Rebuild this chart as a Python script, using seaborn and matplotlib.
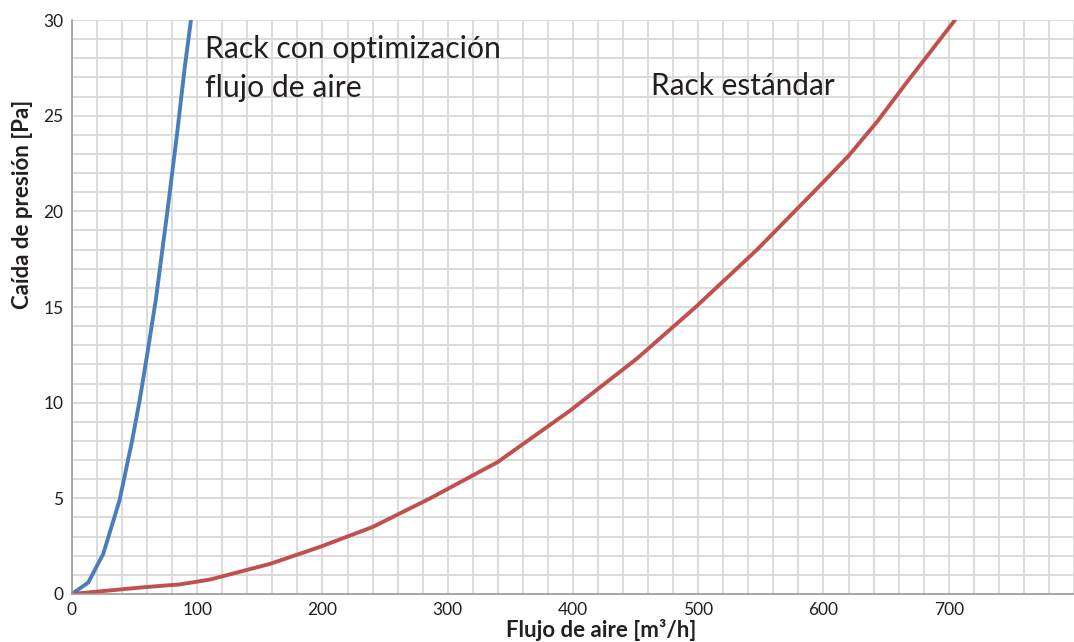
import matplotlib
matplotlib.use("Agg")
import matplotlib.pyplot as plt
import seaborn as sns
import pandas as pd
import numpy as np

# curva rack con optimizacion de flujo de aire
opt_flow = [0, 13, 25, 38, 48, 54, 61, 67, 76, 84, 90, 95]
opt_dp = [0, 0.6, 2.1, 4.9, 8.0, 10.1, 12.9, 15.4, 19.9, 24.1, 27.5, 30]

# curva rack estandar
std_flow = [0, 57, 86, 110, 158, 198, 240, 286, 340, 398, 451, 498, 547, 592, 620, 643, 666, 705]
std_dp = [0, 0.35, 0.5, 0.75, 1.57, 2.46, 3.5, 5.0, 6.9, 9.6, 12.3, 15.0, 18.0, 21.0, 22.9, 24.7, 26.7, 30]

x_ticks = [0, 100, 200, 300, 400, 500, 600, 700]
y_ticks = [0, 5, 10, 15, 20, 25, 30]

sns.set_theme(style="white")
plt.rcParams['font.family'] = ['Lato', 'DejaVu Sans']

df_opt = pd.DataFrame({'flujo': opt_flow, 'dp': opt_dp})
df_std = pd.DataFrame({'flujo': std_flow, 'dp': std_dp})

fig = plt.figure(figsize=(10.74, 6.42), dpi=100)
ax = fig.add_axes([0.067, 0.0748, 0.933, 0.894])

sns.lineplot(data=df_opt, x='flujo', y='dp', ax=ax, color='#4a7ebb', linewidth=2.8, sort=False)
sns.lineplot(data=df_std, x='flujo', y='dp', ax=ax, color='#c0504d', linewidth=2.8, sort=False)

ax.set_xlim(0, 800)
ax.set_ylim(0, 30)
ax.set_xticks(np.arange(0, 801, 20), minor=True)
ax.set_yticks(np.arange(0, 31, 1), minor=True)
ax.set_xticks(x_ticks)
ax.set_yticks(y_ticks)
ax.grid(True, which='both', color='#d9d9d9', linewidth=1.3)
ax.set_axisbelow(True)
ax.tick_params(which='both', length=0, labelsize=12.5, colors='#231f20', pad=6)

for s in ['top', 'right']:
    ax.spines[s].set_visible(False)
for s in ['left', 'bottom']:
    ax.spines[s].set_color('#9a9a9a')
    ax.spines[s].set_linewidth(1.2)

ax.set_xlabel('Flujo de aire [m³/h]', fontsize=16, fontweight='bold', color='#231f20')
ax.set_ylabel('Caída de presión [Pa]', fontsize=16, fontweight='bold', color='#231f20')
ax.xaxis.set_label_coords(0.528, -0.043)
ax.yaxis.set_label_coords(-0.039, 0.678)

ax.text(106, 29.2, 'Rack con optimización\nflujo de aire', fontsize=21.7, color='#231f20',
        va='top', ha='left', linespacing=1.45)
ax.text(462, 27.3, 'Rack estándar', fontsize=21.4, color='#231f20', va='top', ha='left')

fig.savefig('out.png', dpi=100)
